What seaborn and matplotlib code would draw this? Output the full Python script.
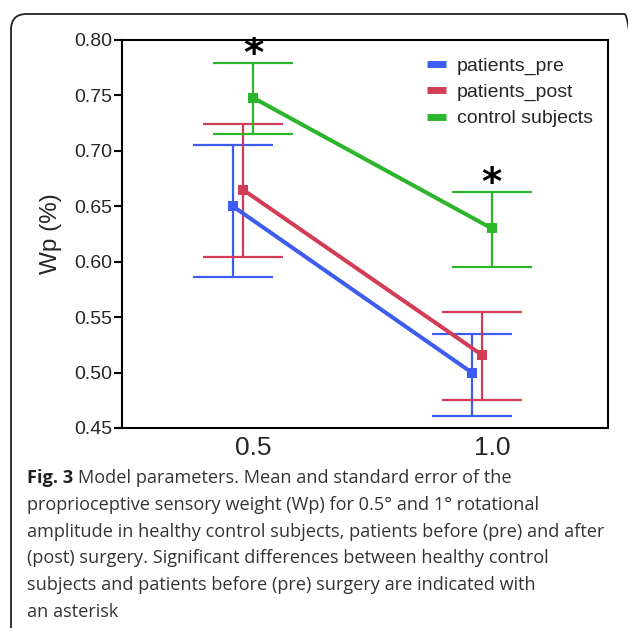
import numpy as np
import pandas as pd
import seaborn as sns
import matplotlib
matplotlib.use("Agg")
import matplotlib.pyplot as plt
from matplotlib.patches import FancyBboxPatch
from matplotlib.lines import Line2D

# ---- data ----
amplitudes = [0.5, 1.0]
groups = ["patients_pre", "patients_post", "control subjects"]
mean_pre = [0.650, 0.500]
mean_post = [0.665, 0.516]
mean_ctrl = [0.748, 0.630]
low_pre = [0.586, 0.461]
high_pre = [0.705, 0.535]
low_post = [0.604, 0.475]
high_post = [0.724, 0.555]
low_ctrl = [0.715, 0.595]
high_ctrl = [0.779, 0.663]
y_ticks = [0.45, 0.50, 0.55, 0.60, 0.65, 0.70, 0.75, 0.80]
x_tick_labels = ["0.5", "1.0"]
sig_marks = ["*", "*"]
caption_lines = [
    "Model parameters. Mean and standard error of the",
    "proprioceptive sensory weight (Wp) for 0.5° and 1° rotational",
    "amplitude in healthy control subjects, patients before (pre) and after",
    "(post) surgery. Significant differences between healthy control",
    "subjects and patients before (pre) surgery are indicated with",
    "an asterisk",
]

colors = {"patients_pre": "#3d5cf0", "patients_post": "#d23c55", "control subjects": "#2bb52b"}
dodge = {"patients_pre": -0.042, "patients_post": -0.021, "control subjects": 0.0}

means = {"patients_pre": mean_pre, "patients_post": mean_post, "control subjects": mean_ctrl}
lows = {"patients_pre": low_pre, "patients_post": low_post, "control subjects": low_ctrl}
highs = {"patients_pre": high_pre, "patients_post": high_post, "control subjects": high_ctrl}

rows = []
for g in groups:
    for a, m, lo, hi in zip(amplitudes, means[g], lows[g], highs[g]):
        rows.append({"amp": a, "x": a + dodge[g], "group": g, "mean": m, "lo": lo, "hi": hi})
df = pd.DataFrame(rows)

sns.set_theme(style="white")
plt.rcParams["font.family"] = ["Liberation Sans", "DejaVu Sans"]

fig = plt.figure(figsize=(6.28, 6.28), dpi=100)
ax = fig.add_axes([122 / 628, 1 - 428 / 628, (608 - 122) / 628, (428 - 40) / 628])

# error bars
for g in groups:
    sub = df[df.group == g]
    ax.errorbar(sub["x"], sub["mean"],
                yerr=[sub["mean"] - sub["lo"], sub["hi"] - sub["mean"]],
                fmt="none", ecolor=colors[g], elinewidth=1.6, capsize=29, capthick=1.6, zorder=2)

sns.lineplot(data=df, x="x", y="mean", hue="group", hue_order=groups, palette=colors,
             marker="s", markersize=7.5, markeredgewidth=0, linewidth=2.9,
             ax=ax, legend=False, zorder=3, sort=False, estimator=None)

# significance asterisks above controls
ctrl = df[df.group == "control subjects"].reset_index(drop=True)
for i, mark in enumerate(sig_marks):
    ax.text(ctrl.loc[i, "x"], ctrl.loc[i, "hi"] - 0.010, mark, ha="center", va="bottom",
            fontsize=28, fontweight="bold", color="black", family="DejaVu Sans")

ax.set_xlim(0.226, 1.243)
ax.set_ylim(0.45, 0.80)
ax.set_yticks(y_ticks)
ax.set_yticklabels([f"{v:.2f}" for v in y_ticks], fontsize=14)
ax.set_xticks(amplitudes)
ax.set_xticklabels(x_tick_labels, fontsize=19)
ax.set_xlabel("")
ax.set_ylabel("Wp (%)", fontsize=17.5, labelpad=9)
for s in ax.spines.values():
    s.set_visible(True)
    s.set_color("black")
    s.set_linewidth(1.5)
ax.tick_params(axis="y", which="major", left=True, length=6, width=1.5, color="black", pad=1)
ax.tick_params(axis="x", bottom=False, pad=0)

handles = [Line2D([0], [0], color=colors[g], linewidth=5, solid_capstyle="butt") for g in groups]
leg = ax.legend(handles, groups, loc="upper right", bbox_to_anchor=(0.985, 0.975), frameon=False,
                fontsize=14, handlelength=1.0, handletextpad=0.55, labelspacing=0.43,
                borderaxespad=0)

# rounded outer frame
frame = FancyBboxPatch((11 / 628, -0.05), 640 / 628 - 11 / 628, 1 - 14 / 628 + 0.05,
                       boxstyle="round,pad=0,rounding_size=0.025", transform=fig.transFigure,
                       fill=False, edgecolor="#222222", linewidth=1.3, clip_on=False)
fig.add_artist(frame)

# caption
cap_font = ["Open Sans", "DejaVu Sans"]
cap_size = 13.1
y0 = 1 - 483 / 628
step = 26.8 / 628
t = fig.text(27 / 628, y0, "Fig. 3", fontsize=cap_size, fontweight="bold", color="#222222",
             family=cap_font, va="baseline")
fig.canvas.draw()
bb = t.get_window_extent()
fig.text(bb.x1 / 628 + 5 / 628, y0, caption_lines[0], fontsize=cap_size, color="#333333",
         family=cap_font, va="baseline")
for i, line in enumerate(caption_lines[1:], start=1):
    fig.text(27 / 628, y0 - i * step, line, fontsize=cap_size, color="#333333",
             family=cap_font, va="baseline")

fig.savefig("out.png", dpi=100)
